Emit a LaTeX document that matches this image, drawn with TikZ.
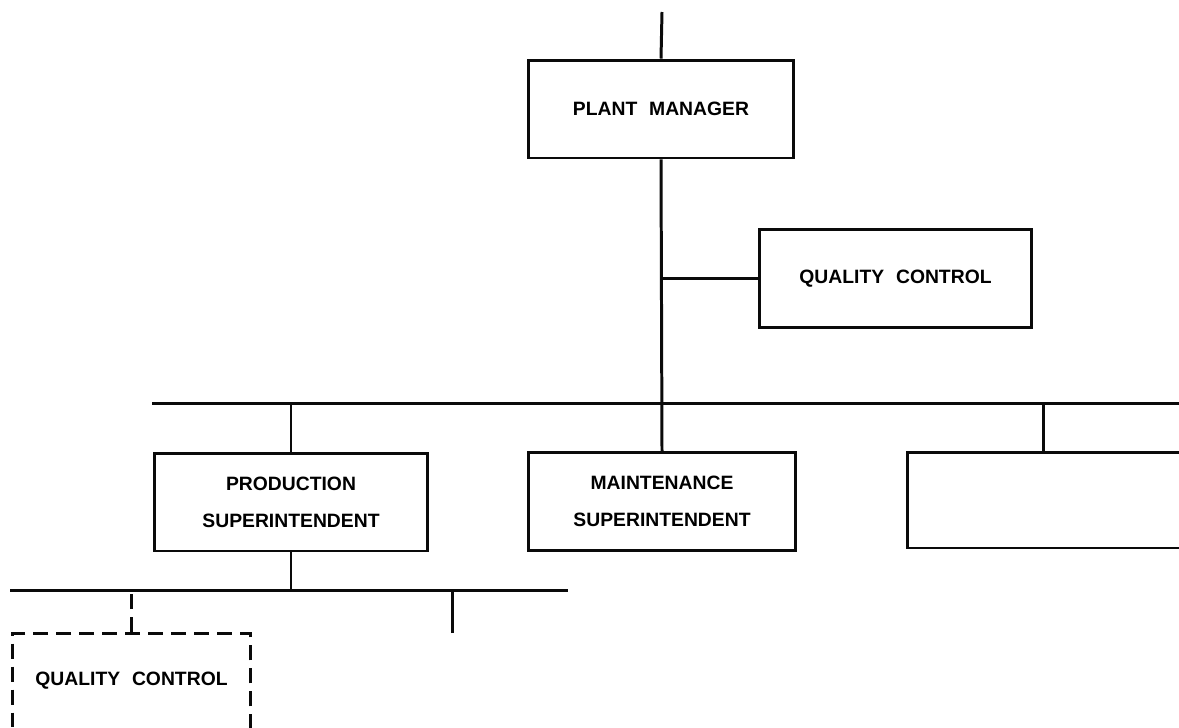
\documentclass[tikz,border=0pt]{standalone}
\usepackage{fontspec}
\usepackage{tikz}
\usetikzlibrary{positioning,calc}
\newfontfamily\orgfont[WordSpace=2.2]{Liberation Sans}
\definecolor{inkBlack}{RGB}{10, 10, 10}

\begin{document}
\begin{tikzpicture}[
      x=0.02cm, y=-0.02cm,
      block/.style={draw=inkBlack, fill=white, line width=1.7pt, align=center, font=\orgfont\bfseries\fontsize{11pt}{21pt}\selectfont, inner sep=0pt, minimum height=1.96cm},
      dashblock/.style={draw=inkBlack, line width=1.7pt, dash pattern=on 0.3cm off 0.16cm, font=\orgfont\bfseries\fontsize{11pt}{21pt}\selectfont, inner sep=0pt},
      link/.style={line width=1.7pt, color=inkBlack},
      dashlink/.style={link, dash pattern=on 0.3cm off 0.16cm}
  ]
      \clip (0,0) rectangle (1179,727);
      \fill[white] (0,0) rectangle (1179,727);

      % TOP LEVEL
      \node[block, minimum width=5.32cm] (pm) at (661,109) {PLANT MANAGER};
      \node[block, minimum width=5.46cm] (qc) at (895.5,278.5) {QUALITY CONTROL};
      \coordinate (top) at (662,12);

      \draw[link] (top) -- (pm.north);
      \draw[link] (qc.west) -- (qc.west -| pm.south);

      % SECOND LEVEL
      \coordinate (busL) at (152,403);
      \coordinate (busR) at (1200,403);
      \node[block, minimum width=5.48cm] (prod) at (291,502) {PRODUCTION\\SUPERINTENDENT};
      \node[block, minimum width=5.36cm] (maint) at (662,501.5) {MAINTENANCE\\SUPERINTENDENT};
      \node[block, minimum width=5.72cm, minimum height=1.92cm] (other) at (1050,500) {};

      \draw[link] (pm.south) -- (maint.north);
      \draw[link] (busL) -- (busR);
      \draw[link] (prod.north) -- (prod.north |- busL);
      \draw[link] ($(other.north)+(-7,0)$) -- ($(other.north |- busL)+(-7,0)$);

      % THIRD LEVEL
      \coordinate (subL) at (10,590);
      \coordinate (subR) at (568,590);
      \coordinate (subEnd) at (452,633);
      \node[dashblock, anchor=north, minimum width=4.78cm, text height=1.04cm, text depth=3cm] (qcsub) at (131.5,632) {QUALITY CONTROL};

      \draw[link] (prod.south) -- (prod.south |- subL);
      \draw[link] (subL) -- (subR);
      \draw[dashlink] (qcsub.north) -- (qcsub.north |- subL);
      \draw[link] (subEnd) -- (subEnd |- subL);
  \end{tikzpicture}
\end{document}
